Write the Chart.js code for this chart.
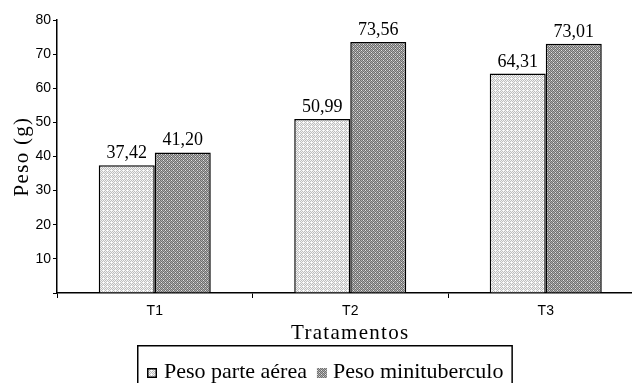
<!DOCTYPE html>
<html>
<head>
<meta charset="utf-8">
<script src="https://cdn.jsdelivr.net/npm/chart.js@4.4.1/dist/chart.umd.min.js"></script>
<style>
  html, body { margin: 0; padding: 0; background: #fff; overflow: hidden; width: 632px; height: 383px; }
  #wrap { position: relative; width: 650px; height: 383px; }
  canvas { display: block; }
</style>
</head>
<body>
<div id="wrap"><canvas id="c" width="650" height="383"></canvas></div>
<script>
// Treatments and measured weights (g)
const categories = ['T1', 'T2', 'T3'];
const pesoParteAerea = [37.42, 50.99, 64.31];
const pesoMinituberculo = [41.20, 73.56, 73.01];
const seriesNames = ['Peso parte aérea', 'Peso minituberculo'];
const yTicks = [0, 10, 20, 30, 40, 50, 60, 70, 80];
const xTitle = 'Tratamentos';
const yTitle = 'Peso (g)';

// Small pixel tiles used as hatch-like fills for the bars
function makePattern(rows, palette) {
  const h = rows.length, w = rows[0].length;
  const cv = document.createElement('canvas');
  cv.width = w; cv.height = h;
  const c = cv.getContext('2d');
  for (let y = 0; y < h; y++) {
    for (let x = 0; x < w; x++) {
      c.fillStyle = palette[rows[y][x]];
      c.fillRect(x, y, 1, 1);
    }
  }
  return document.getElementById('c').getContext('2d').createPattern(cv, 'repeat');
}

const lightFill = makePattern(
  ['WGWG', 'GWGW', 'WGWL', 'GWGW'],
  { W: '#f4f4f4', G: '#bdbdbd', L: '#ffffff' }
);
const darkFill = makePattern(
  ['DLDW', 'LDLD', 'DWDL', 'LDLD'],
  { D: '#6e6e6e', L: '#ababab', W: '#e0e0e0' }
);

const fmt = v => v.toFixed(2).replace('.', ',');
Chart.defaults.font.family = 'Liberation Sans';
Chart.defaults.font.size = 14;

const annotate = {
  id: 'annotate',
  afterDraw(chart) {
    const { ctx, chartArea: a } = chart;
    ctx.save();
    ctx.fillStyle = '#000';

    // value labels above each bar
    ctx.font = '18px "Liberation Serif"';
    ctx.textAlign = 'center';
    ctx.textBaseline = 'alphabetic';
    chart.data.datasets.forEach((ds, i) => {
      chart.getDatasetMeta(i).data.forEach((bar, j) => {
        ctx.fillText(fmt(ds.data[j]), bar.x, bar.y - 7);
      });
    });

    // axis titles
    ctx.font = '21px "Liberation Serif"';
    ctx.letterSpacing = '1.3px';
    ctx.fillText(xTitle, (a.left + a.right) / 2, chart.scales.x.bottom + 0.5);
    ctx.save();
    ctx.translate(27.5, (a.top + a.bottom) / 2);
    ctx.rotate(-Math.PI / 2);
    ctx.fillText(yTitle, 0, 0);
    ctx.restore();
    ctx.letterSpacing = '0px';

    // legend box
    const fills = [lightFill, darkFill];
    const boxLeft = 137, boxTop = 345, base = 378, mk = 10;
    ctx.font = '22px "Liberation Serif"';
    ctx.textAlign = 'left';
    let x = boxLeft + 10;
    chart.data.datasets.forEach((ds, i) => {
      ctx.fillStyle = fills[i];
      ctx.fillRect(x, base - mk, mk, mk);
      if (i === 0) {
        ctx.strokeStyle = '#000';
        ctx.lineWidth = 1.5;
        ctx.strokeRect(x + 0.75, base - mk + 0.75, mk - 1.5, mk - 1.5);
      }
      x += mk + (i === 0 ? 7 : 6);
      ctx.fillStyle = '#000';
      ctx.fillText(ds.label, x, base);
      x += ctx.measureText(ds.label).width + 10;
    });
    ctx.strokeStyle = '#000';
    ctx.lineWidth = 1.5;
    ctx.strokeRect(boxLeft + 0.75, boxTop + 0.75, x - boxLeft - 2, 60);
    ctx.restore();
  }
};

new Chart(document.getElementById('c'), {
  type: 'bar',
  data: {
    labels: categories,
    datasets: [
      { label: seriesNames[0], data: pesoParteAerea, backgroundColor: lightFill,
        borderColor: '#000', borderWidth: 1.5 },
      { label: seriesNames[1], data: pesoMinituberculo, backgroundColor: darkFill,
        borderColor: '#000', borderWidth: 1.5 }
    ]
  },
  options: {
    responsive: false,
    animation: false,
    devicePixelRatio: 1,
    categoryPercentage: 0.573,
    barPercentage: 1,
    layout: { padding: { top: 20, right: 6.5, bottom: 45, left: 0 } },
    plugins: { legend: { display: false }, tooltip: { enabled: false } },
    scales: {
      x: {
        grid: { display: true, drawOnChartArea: false, drawTicks: true, tickLength: 5,
                color: '#000', lineWidth: 1, offset: true },
        border: { display: true, color: '#000', width: 1.5 },
        ticks: { color: '#000', font: { size: 14 }, padding: 5, maxRotation: 0 },
        afterFit(s) { s.height = 45; }
      },
      y: {
        min: 0, max: 80,
        afterBuildTicks(s) { s.ticks = yTicks.map(v => ({ value: v })); },
        grid: { drawOnChartArea: false, drawTicks: true, tickLength: 4, color: '#000', lineWidth: 1 },
        border: { display: true, color: '#000', width: 1.5 },
        ticks: { color: '#000', font: { size: 14 }, padding: 2,
                 callback: v => (v === 0 ? '' : String(v)) },
        afterFit(s) { s.width = 57; }
      }
    }
  },
  plugins: [annotate]
});
</script>
</body>
</html>
